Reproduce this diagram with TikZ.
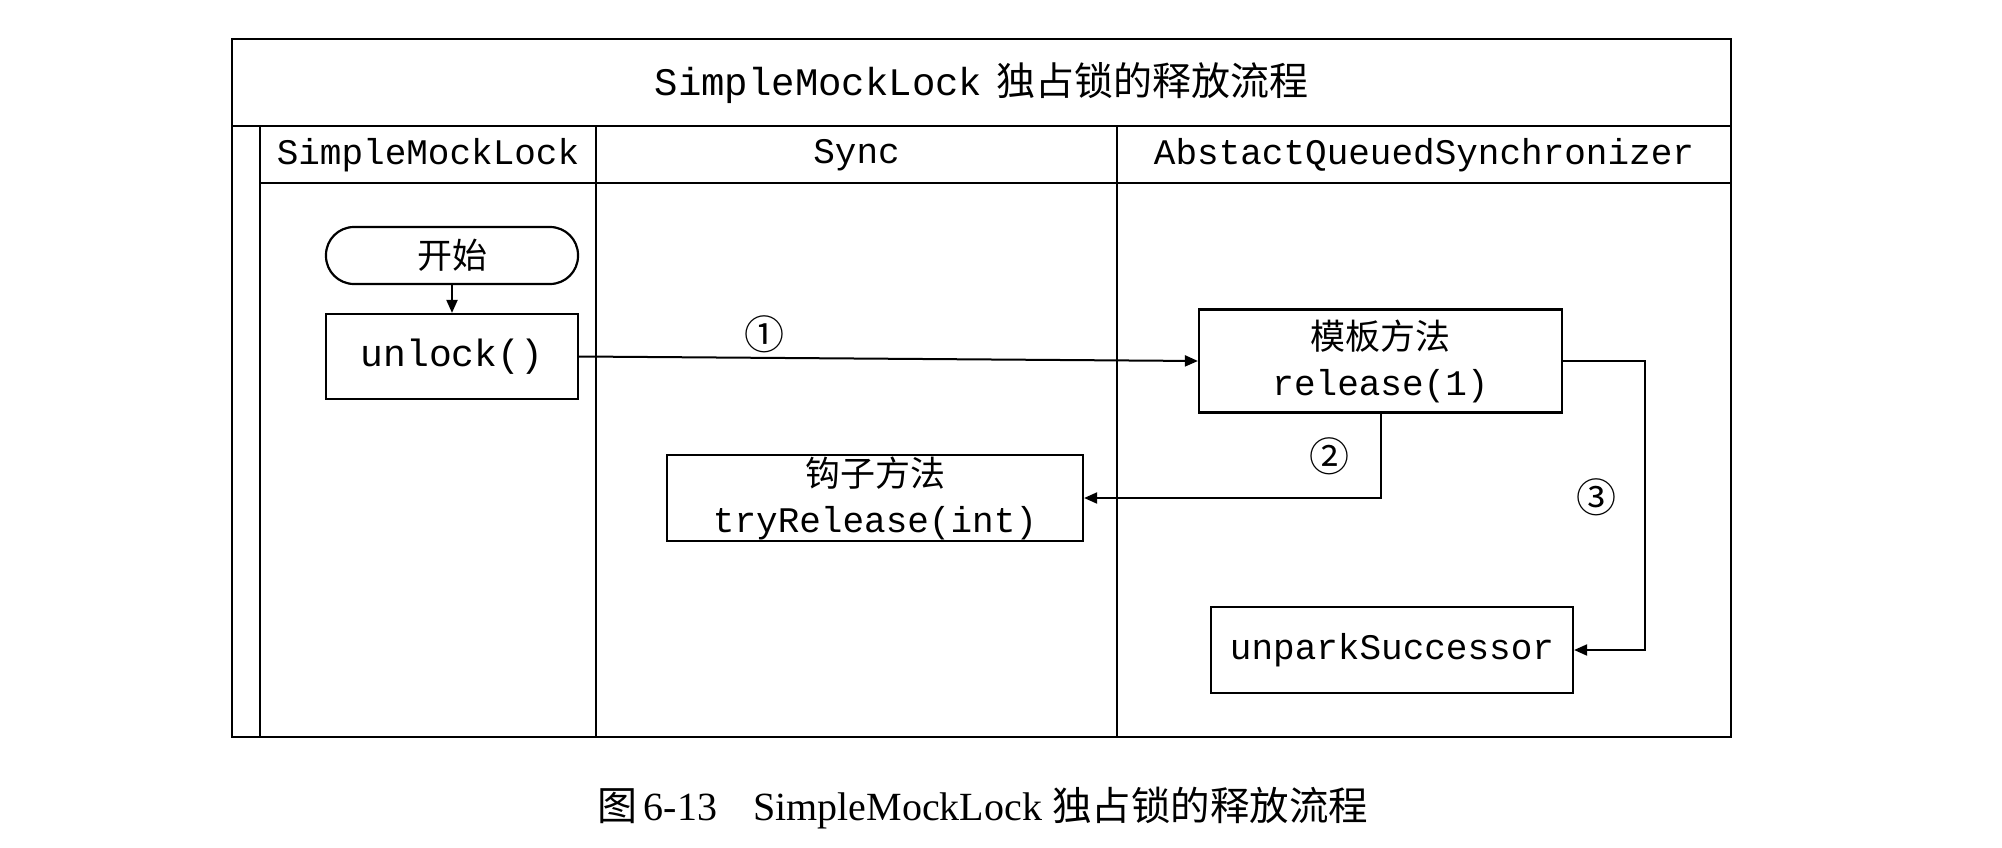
\documentclass[tikz,border=0pt]{standalone}
\usepackage{fontspec}
\setmainfont{Liberation Serif}
\setmonofont{Liberation Mono}
\newfontfamily\cjk{Noto Sans CJK SC}
\usetikzlibrary{arrows.meta}
\begin{document}
\begin{tikzpicture}[x=1pt,y=-1pt,
  frame/.style={line width=2pt},
  box/.style={draw,line width=2.2pt,inner sep=0pt,align=center,font=\fontsize{36}{46}\selectfont\ttfamily},
  term/.style={box,rounded corners=28pt},
  lbl/.style={inner sep=0pt,font=\fontsize{36}{44}\selectfont\ttfamily},
  num/.style={inner sep=0pt,font=\fontsize{40}{46}\selectfont\cjk},
  arr/.style={line width=2pt,-{Triangle[length=13pt,width=11pt]}}]
\useasboundingbox (0,0) rectangle (2002,848);
% frame
\draw[frame] (232,39) rectangle (1731,737);
\draw[frame] (232,126) -- (1731,126);
\draw[frame] (260,183) -- (1731,183);
\draw[frame] (260,126) -- (260,737);
\draw[frame] (596,126) -- (596,737);
\draw[frame] (1117,126) -- (1117,737);
% title and headers
\node[lbl,font=\fontsize{39}{46}\selectfont\ttfamily] (title) at (981.5,83) {SimpleMockLock\hspace{14pt}{\cjk 独占锁的释放流程}};
\node[lbl] (h1) at (428,155) {SimpleMockLock};
\node[lbl] (h2) at (856.5,155) {Sync};
\node[lbl] (h3) at (1424,155) {AbstactQueuedSynchronizer};
% nodes
\node[term,minimum width=252pt,minimum height=57pt] (start) at (452,255.5) {{\cjk\fontsize{35}{42}\selectfont 开始}};
\node[box,minimum width=252pt,minimum height=85pt,font=\fontsize{38}{46}\selectfont\ttfamily] (unlock) at (452,356.5) {unlock()};
\node[box,minimum width=363pt,minimum height=103pt] (release) at (1380.5,361) {{\cjk\fontsize{35}{45}\selectfont 模板方法}\\release(1)};
\node[box,minimum width=416pt,minimum height=86pt] (hook) at (875,498) {{\cjk\fontsize{35}{47}\selectfont 钩子方法}\\tryRelease(int)};
\node[box,minimum width=362pt,minimum height=86pt] (unpark) at (1392,650) {unparkSuccessor};
\coordinate (r3) at (1645,650);
% connectors
\draw[arr] (start) -- (unlock);
\draw[arr] (unlock.east) -- (release.west);
\draw[arr] (release.south) |- (hook.east);
\draw[arr] (release.east) -| (r3) -- (unpark.east);
\node[num] (n1) at (764,334) {①};
\node[num] (n2) at (1329,456) {②};
\node[num] (n3) at (1596,497) {③};
% caption
\node[inner sep=0pt,font=\fontsize{40}{48}\selectfont] (cap) at (983,808) {{\cjk\fontsize{40}{48}\selectfont 图}\hspace{6pt}6-13\hspace{36pt}SimpleMockLock {\cjk\fontsize{39.5}{48}\selectfont 独占锁的释放流程}};
\end{tikzpicture}
\end{document}
